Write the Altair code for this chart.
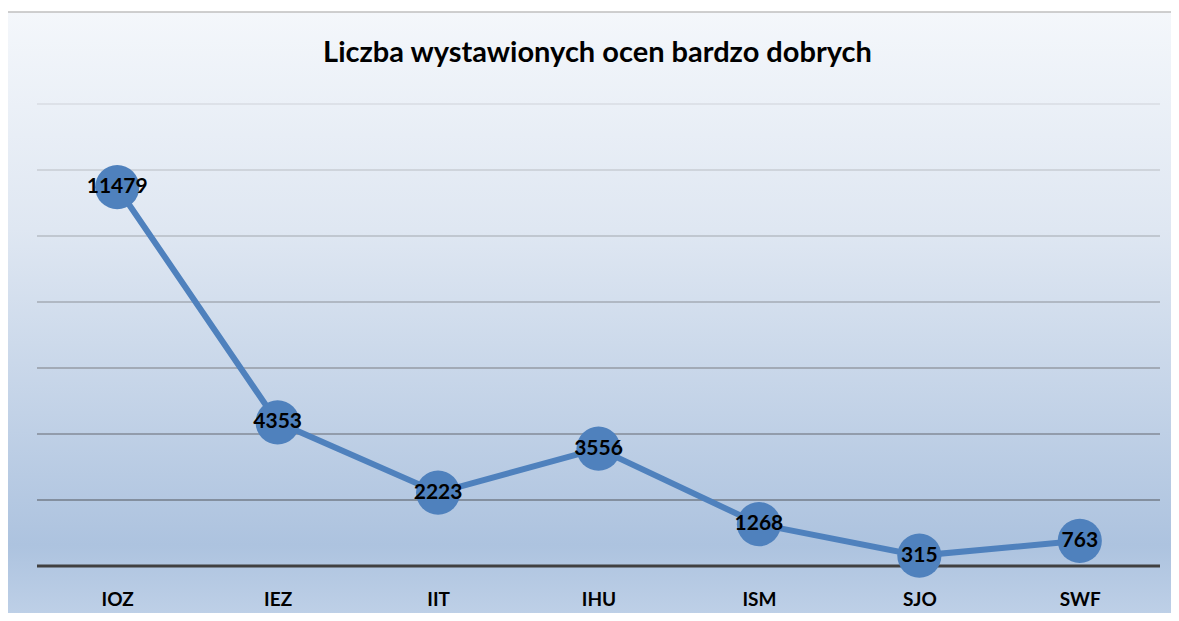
import altair as alt
import pandas as pd

categories = ["IOZ", "IEZ", "IIT", "IHU", "ISM", "SJO", "SWF"]
values = [11479, 4353, 2223, 3556, 1268, 315, 763]
grid_values = [2000, 4000, 6000, 8000, 10000, 12000, 14000]
title_text = ["Liczba wystawionych ocen bardzo dobrych"]

df = pd.DataFrame({"cat": categories, "val": values})
grid_df = pd.DataFrame({"g": grid_values})

W, H = 1123, 462
FONT = "Lato"

y_scale = alt.Scale(domain=[0, 14000], nice=False)

bg = alt.Chart(pd.DataFrame({"k": [1]})).mark_rect(
    color=alt.Gradient(
        gradient="linear", x1=1, x2=1, y1=0, y2=1,
        stops=[alt.GradientStop(color="#f4f7fb", offset=0),
               alt.GradientStop(color="#dfe7f2", offset=0.35),
               alt.GradientStop(color="#adc3df", offset=0.86),
               alt.GradientStop(color="#c2d3e9", offset=1)]),
    clip=False
).encode(x=alt.value(-30), x2=alt.value(W + 80), y=alt.value(-92), y2=alt.value(H + 66))

frame = alt.Chart(pd.DataFrame({"k": [1]})).mark_rect(
    fill="transparent", stroke="#c0c0c0", strokeWidth=1.5, clip=False
).encode(x=alt.value(-30), x2=alt.value(W + 80), y=alt.value(-92), y2=alt.value(H + 66))

title = alt.Chart(pd.DataFrame({"t": title_text})).mark_text(
    font=FONT, fontSize=29, fontWeight="bold", color="#000000", align="center", baseline="middle"
).encode(x=alt.value(W / 2 - 1), y=alt.value(-51), text="t:N")

grid = alt.Chart(grid_df).mark_rule(strokeWidth=1.5).encode(
    y=alt.Y("g:Q", scale=y_scale, axis=None),
    color=alt.Color("g:Q", scale=alt.Scale(domain=[2000, 14000], range=["#737c88", "#d9dde3"]), legend=None),
)

base_rule = alt.Chart(pd.DataFrame({"z": [0]})).mark_rule(color="#404040", strokeWidth=3).encode(
    y=alt.Y("z:Q", scale=y_scale, axis=None)
)

x_enc = alt.X("cat:N", sort=categories, scale=alt.Scale(padding=0.5),
              axis=alt.Axis(title=None, labelAngle=0, labelFont=FONT, labelFontWeight="bold",
                            labelFontSize=19, labelColor="#000000", labelPadding=24,
                            ticks=False, domain=False, grid=False, zindex=2))

line = alt.Chart(df).mark_line(color="#4f81bd", strokeWidth=6).encode(
    x=x_enc,
    y=alt.Y("val:Q", scale=y_scale, axis=None),
)
pts = alt.Chart(df).mark_circle(color="#4f81bd", opacity=1, size=1950).encode(
    x=alt.X("cat:N", sort=categories),
    y=alt.Y("val:Q", scale=y_scale, axis=None),
)
labels = alt.Chart(df).mark_text(font=FONT, fontWeight="bold", fontSize=21, color="#000000",
                                 baseline="middle", align="center").encode(
    x=alt.X("cat:N", sort=categories),
    y=alt.Y("val:Q", scale=y_scale, axis=None),
    text=alt.Text("val:Q", format="d"),
)

chart = alt.layer(bg, frame, title, grid, base_rule, line, pts, labels).properties(
    width=W, height=H,
    autosize=alt.AutoSizeParams(type="none"),
    padding={"left": 29, "top": 96, "right": 11, "bottom": 47},
    background="white",
).configure_view(strokeWidth=0)

chart.save("out.html", embed_options={"renderer": "svg", "actions": False})
